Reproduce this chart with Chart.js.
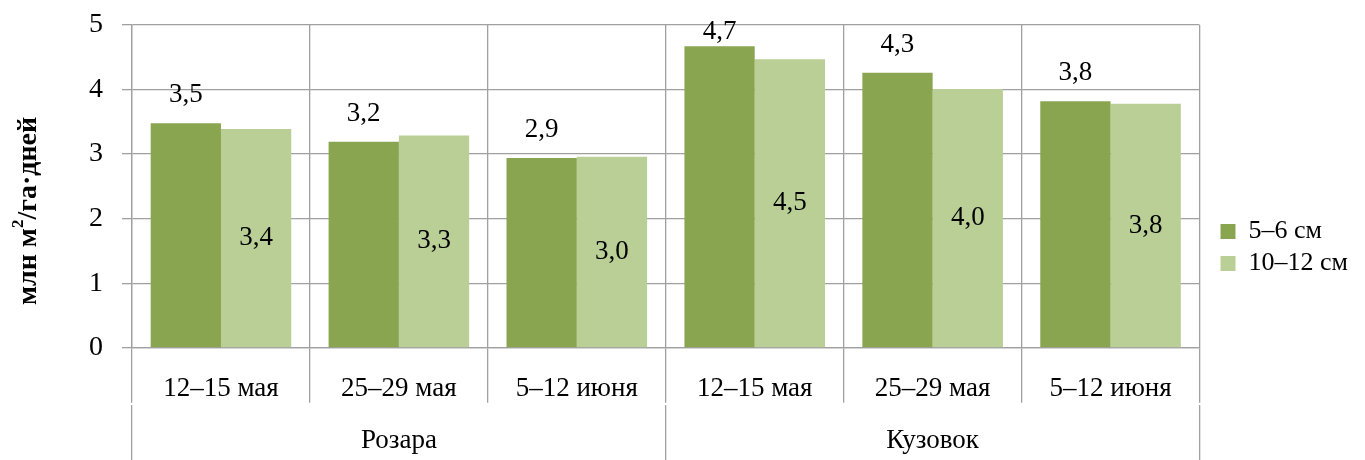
<!DOCTYPE html>
<html lang="ru">
  <head>
    <meta charset="UTF-8" />
    <title>Chart</title>
    <script src="https://cdn.jsdelivr.net/npm/chart.js"></script>
    <style>
      html,
      body {
        margin: 0;
        padding: 0;
        background: #fff;
      }
      #wrap {
        width: 1365px;
        height: 460px;
        position: relative;
      }
    </style>
  </head>
  <body>
    <div id="wrap"><canvas id="chart"></canvas></div>

    <script>
      // data
      const categories = ["12–15 мая", "25–29 мая", "5–12 июня", "12–15 мая", "25–29 мая", "5–12 июня"];
      const groups = ["Розара", "Кузовок"];
      const seriesNames = ["5–6 см", "10–12 см"];
      const small = [3.48, 3.19, 2.94, 4.67, 4.26, 3.82];
      const large = [3.39, 3.29, 2.96, 4.47, 4.01, 3.78];
      const yMin = 0;
      const yMax = 5;
      const yStep = 1;
      const axisTitle = ["млн м", "2", "/га·дней"];

      const serif = "'Liberation Serif', 'Times New Roman', serif";
      const gridColor = "#a0a0a0";

      function fmt(v) {
        return v.toFixed(1).replace(".", ",");
      }

      // value labels: dark series above the bar, light series inside the bar
      const valueLabels = {
        id: "valueLabels",
        afterDatasetsDraw(chart) {
          const ctx = chart.ctx;
          ctx.save();
          ctx.font = "27px " + serif;
          ctx.fillStyle = "#000";
          ctx.textAlign = "center";
          ctx.textBaseline = "middle";
          chart.getDatasetMeta(0).data.forEach((bar, i) => {
            // the top one is pushed down so it stays inside, as in the original
            const y = Math.max(bar.y - 28, chart.chartArea.top + 7);
            ctx.fillText(fmt(small[i]), bar.x, y);
          });
          chart.getDatasetMeta(1).data.forEach((bar, i) => {
            ctx.fillText(fmt(large[i]), bar.x, (bar.y + bar.base) / 2);
          });
          ctx.restore();
        },
      };

      // rotated y title with superscript 2
      const yTitle = {
        id: "yTitle",
        afterDraw(chart) {
          const ctx = chart.ctx;
          const big = "bold 28px " + serif;
          const sup = "bold 17px " + serif;
          ctx.save();
          ctx.fillStyle = "#000";
          ctx.textBaseline = "middle";
          ctx.textAlign = "left";
          ctx.font = big;
          const w1 = ctx.measureText(axisTitle[0]).width;
          const w3 = ctx.measureText(axisTitle[2]).width;
          ctx.font = sup;
          const w2 = ctx.measureText(axisTitle[1]).width;
          const total = w1 + w2 + w3;
          ctx.translate(29, 211);
          ctx.rotate(-Math.PI / 2);
          let x = -total / 2;
          ctx.font = big;
          ctx.fillText(axisTitle[0], x, 0);
          x += w1;
          ctx.font = sup;
          ctx.fillText(axisTitle[1], x, -10);
          x += w2;
          ctx.font = big;
          ctx.fillText(axisTitle[2], x, 0);
          ctx.restore();
        },
      };

      // move the legend a little right and down, like the original
      const legendNudge = {
        id: "legendNudge",
        afterLayout(chart) {
          const lg = chart.legend;
          lg.left += 15;
          lg.right += 15;
          lg.top += 5;
          lg.bottom += 5;
        },
      };

      new Chart(document.getElementById("chart"), {
        type: "bar",
        data: {
          labels: categories,
          datasets: [
            {
              label: seriesNames[0],
              data: small,
              backgroundColor: "#8aa550",
              categoryPercentage: 0.79,
              barPercentage: 1.0,
            },
            {
              label: seriesNames[1],
              data: large,
              backgroundColor: "#b9cf96",
              categoryPercentage: 0.79,
              barPercentage: 1.0,
            },
          ],
        },
        options: {
          responsive: true,
          maintainAspectRatio: false,
          animation: false,
          layout: { padding: { top: 25, left: 70, right: 22, bottom: 0 } },
          plugins: {
            tooltip: { enabled: false },
            legend: {
              position: "right",
              align: "center",
              labels: {
                boxWidth: 15,
                boxHeight: 15,
                padding: 6,
                color: "#000",
                font: { family: serif, size: 26 },
              },
            },
          },
          scales: {
            y: {
              min: yMin,
              max: yMax,
              ticks: {
                stepSize: yStep,
                color: "#000",
                padding: 19,
                font: { family: serif, size: 28 },
              },
              grid: { color: gridColor, lineWidth: 1.3, tickLength: 10 },
              border: { color: gridColor, width: 1.3 },
              // the label gap should not push the plot down
              afterFit(scale) {
                scale.paddingTop = 10;
              },
            },
            // period labels, drawn inside the long tick marks
            x: {
              grid: { offset: true, color: gridColor, lineWidth: 1.3, tickLength: 55 },
              border: { color: gridColor, width: 1.3 },
              ticks: {
                color: "#000",
                crossAlign: "far",
                padding: -14,
                maxRotation: 0,
                autoSkip: false,
                font: { family: serif, size: 27, lineHeight: 1.1 },
              },
            },
            // variety labels under them
            x2: {
              type: "category",
              labels: groups,
              position: "bottom",
              offset: true,
              grid: { offset: true, drawOnChartArea: false, color: gridColor, lineWidth: 1.3, tickLength: 57 },
              border: { display: false },
              ticks: {
                color: "#000",
                crossAlign: "far",
                padding: -21,
                maxRotation: 0,
                font: { family: serif, size: 27, lineHeight: 1.5 },
              },
            },
          },
        },
        plugins: [valueLabels, yTitle, legendNudge],
      });
    </script>
  </body>
</html>
